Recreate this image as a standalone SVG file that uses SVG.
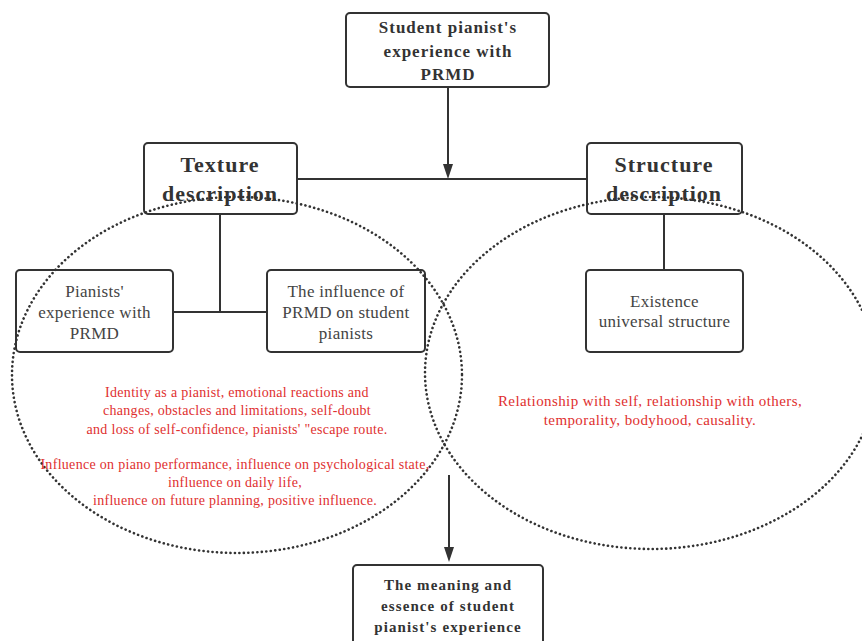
<svg xmlns="http://www.w3.org/2000/svg" width="862" height="641" viewBox="0 0 862 641">
<style>
.box{fill:#fff;stroke:#333;stroke-width:2}
.ln{stroke:#333;stroke-width:2;fill:none}
.ell{fill:none;stroke:#333;stroke-width:2.6;stroke-dasharray:0.1 4.4;stroke-linecap:round}
.hd{font-family:"Liberation Serif",serif;font-weight:bold;fill:#333;text-anchor:middle}
.t1{font-size:17px;letter-spacing:1px}
.t2{font-size:22px;letter-spacing:1px}
.t3{font-size:15px;letter-spacing:1.1px}
.nm{font-family:"Liberation Serif",serif;font-size:17px;letter-spacing:0.3px;fill:#444;text-anchor:middle}
.rd{font-family:"Liberation Serif",serif;fill:#e0302f;text-anchor:middle}
</style>
<rect width="862" height="641" fill="#fff"/>
<g id="connectors">
<line class="ln" x1="448" y1="88" x2="448" y2="165"/>
<path d="M443,164 L453,164 L448,179 Z" fill="#333"/>
<line class="ln" x1="297" y1="179" x2="587" y2="179"/>
<line class="ln" x1="220" y1="214" x2="220" y2="312"/>
<line class="ln" x1="173" y1="312" x2="267" y2="312"/>
<line class="ln" x1="664" y1="214" x2="664" y2="270"/>
<line class="ln" x1="449" y1="475" x2="449" y2="548"/>
<path d="M444,547 L454,547 L449,562 Z" fill="#333"/>
</g>
<g id="top">
<rect class="box" x="346" y="13" width="203" height="74" rx="4"/>
<text class="hd t1" x="448" y="33">Student pianist's</text>
<text class="hd t1" x="448" y="57">experience with</text>
<text class="hd t1" x="448" y="80">PRMD</text>
</g>
<g id="texture">
<rect class="box" x="144" y="143" width="153" height="71" rx="4"/>
<text class="hd t2" x="220" y="172">Texture</text>
<text class="hd t2" x="220" y="201">description</text>
</g>
<g id="structure">
<rect class="box" x="587" y="143" width="155" height="71" rx="4"/>
<text class="hd t2" x="664" y="172">Structure</text>
<text class="hd t2" x="664" y="201">description</text>
</g>
<g id="pianists">
<rect class="box" x="16" y="270" width="157" height="82" rx="4"/>
<text class="nm" x="94.5" y="297">Pianists'</text>
<text class="nm" x="94.5" y="318">experience with</text>
<text class="nm" x="94.5" y="339">PRMD</text>
</g>
<g id="influence">
<rect class="box" x="267" y="270" width="158" height="82" rx="4"/>
<text class="nm" x="346" y="297">The influence of</text>
<text class="nm" x="346" y="318">PRMD on student</text>
<text class="nm" x="346" y="339">pianists</text>
</g>
<g id="existence">
<rect class="box" x="586" y="270" width="157" height="82" rx="4"/>
<text class="nm" x="664.5" y="307">Existence</text>
<text class="nm" x="664.5" y="327">universal structure</text>
</g>
<g id="meaning">
<rect class="box" x="353" y="565" width="190" height="90" rx="4"/>
<text class="hd t3" x="448" y="590">The meaning and</text>
<text class="hd t3" x="448" y="611">essence of student</text>
<text class="hd t3" x="448" y="632">pianist's experience</text>
</g>
<g id="texture-ellipse">
<ellipse class="ell" cx="237" cy="375" rx="225" ry="178"/>
<g class="rd" font-size="14" letter-spacing="0.3">
<text x="237" y="397">Identity as a pianist, emotional reactions and</text>
<text x="237" y="415">changes, obstacles and limitations, self-doubt</text>
<text x="237" y="434">and loss of self-confidence, pianists' "escape route.</text>
<text x="235" y="469">Influence on piano performance, influence on psychological state,</text>
<text x="235" y="487">influence on daily life,</text>
<text x="235" y="505">influence on future planning, positive influence.</text>
</g>
</g>
<g id="structure-ellipse">
<ellipse class="ell" cx="651" cy="373" rx="226" ry="176"/>
<g class="rd" font-size="15" letter-spacing="0.4">
<text x="650" y="406">Relationship with self, relationship with others,</text>
<text x="650" y="425">temporality, bodyhood, causality.</text>
</g>
</g>
</svg>
